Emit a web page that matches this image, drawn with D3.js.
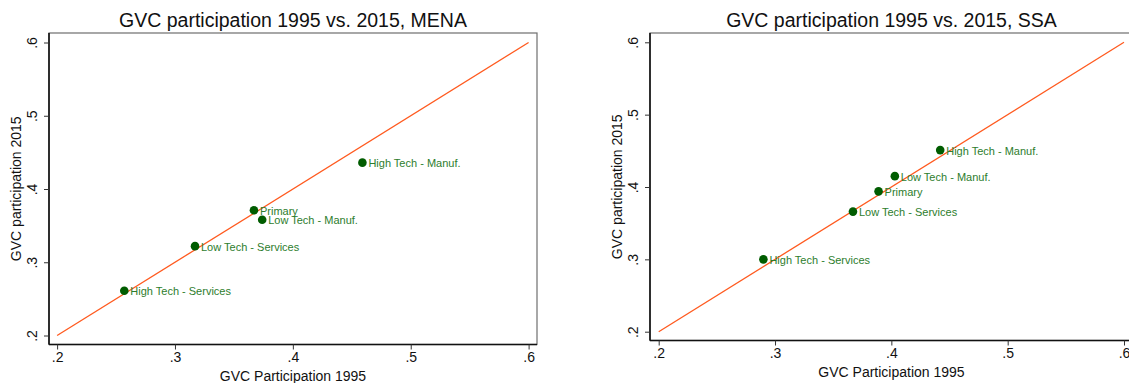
<!DOCTYPE html>
<html>
<head>
<meta charset="utf-8">
<script src="https://cdn.jsdelivr.net/npm/d3@7"></script>
<style>
  body { margin: 0; background: #fff; }
  svg { display: block; font-family: "Liberation Sans", Arial, sans-serif; }
</style>
</head>
<body>
<div id="app"></div>
<script>
const sectors = [
  "High Tech - Services",
  "Low Tech - Services",
  "Primary",
  "Low Tech - Manuf.",
  "High Tech - Manuf.",
];
const menaGvc1995 = [0.257, 0.317, 0.367, 0.374, 0.459];
const menaGvc2015 = [0.261, 0.322, 0.371, 0.358, 0.436];
const ssaGvc1995 = [0.29, 0.367, 0.389, 0.403, 0.442];
const ssaGvc2015 = [0.3, 0.366, 0.394, 0.415, 0.451];
const tickValues = [0.2, 0.3, 0.4, 0.5, 0.6];
const diagonal = [0.2, 0.6];
const titles = [
  "GVC participation 1995 vs. 2015, MENA",
  "GVC participation 1995 vs. 2015, SSA",
];
const xTitle = "GVC Participation 1995";
const yTitle = "GVC participation 2015";

const width = 1129;
const height = 383;

const svg = d3
  .select("#app")
  .append("svg")
  .attr("width", width)
  .attr("height", height);

const fmt = (d) => d3.format(".1f")(d).replace(/^0/, "");

// pixel layout of each Stata panel
const panels = [
  {
    title: titles[0],
    x1995: menaGvc1995,
    y2015: menaGvc2015,
    left: 49, right: 537, top: 33, bottom: 344.5,
    xr: [57.1, 528.6], yr: [335.5, 42.5],
  },
  {
    title: titles[1],
    x1995: ssaGvc1995,
    y2015: ssaGvc2015,
    left: 650, right: 1133, top: 33, bottom: 340.5,
    xr: [658.7, 1124], yr: [331.7, 42.3],
  },
];

panels.forEach((p) => {
  const x = d3.scaleLinear().domain([0.2, 0.6]).range(p.xr);
  const y = d3.scaleLinear().domain([0.2, 0.6]).range(p.yr);
  const g = svg.append("g");
  const cx = (p.left + p.right) / 2;
  const cy = (p.top + p.bottom) / 2;

  // plot region border
  g.append("rect")
    .attr("x", p.left)
    .attr("y", p.top)
    .attr("width", p.right - p.left)
    .attr("height", p.bottom - p.top)
    .attr("fill", "none")
    .attr("stroke", "#6e6e6e")
    .attr("stroke-width", 1.2);

  g.append("text")
    .attr("x", cx)
    .attr("y", 27)
    .attr("text-anchor", "middle")
    .attr("font-size", 19.5)
    .attr("fill", "#111")
    .text(p.title);

  const xAxis = g
    .append("g")
    .attr("transform", `translate(0,${p.bottom})`)
    .call(d3.axisBottom(x).tickValues(tickValues).tickFormat(fmt).tickSize(5).tickSizeOuter(0));
  xAxis.select(".domain").attr("d", `M${p.left},0H${p.right}`).attr("stroke", "#111").attr("stroke-width", 1.6);
  xAxis.selectAll(".tick line").attr("stroke", "#333");
  xAxis.selectAll(".tick text")
    .attr("font-size", 14)
    .attr("font-family", "Liberation Sans, Arial, sans-serif")
    .attr("fill", "#111")
    .attr("y", 8);

  const yAxis = g
    .append("g")
    .attr("transform", `translate(${p.left},0)`)
    .call(d3.axisLeft(y).tickValues(tickValues).tickFormat(fmt).tickSize(5).tickSizeOuter(0));
  yAxis.select(".domain").attr("d", `M0,${p.top}V${p.bottom}`).attr("stroke", "#111").attr("stroke-width", 1.6);
  yAxis.selectAll(".tick line").attr("stroke", "#333");
  yAxis.selectAll(".tick text")
    .attr("font-size", 14)
    .attr("font-family", "Liberation Sans, Arial, sans-serif")
    .attr("fill", "#111")
    .attr("x", null)
    .attr("text-anchor", "middle")
    .attr("transform", "translate(-11,0) rotate(-90)")
    .attr("dy", "-0.1em");

  g.append("text")
    .attr("x", cx)
    .attr("y", p.bottom + 36)
    .attr("text-anchor", "middle")
    .attr("font-size", 14)
    .attr("fill", "#111")
    .text(xTitle);

  g.append("text")
    .attr("transform", `translate(${p.left - 28},${cy}) rotate(-90)`)
    .attr("text-anchor", "middle")
    .attr("font-size", 14)
    .attr("fill", "#111")
    .text(yTitle);

  // 45 degree reference line
  g.append("line")
    .attr("x1", x(diagonal[0]))
    .attr("y1", y(diagonal[0]))
    .attr("x2", x(diagonal[1]))
    .attr("y2", y(diagonal[1]))
    .attr("stroke", "#ff5a1f")
    .attr("stroke-width", 1.3);

  const pts = sectors.map((s, i) => ({ name: s, a: p.x1995[i], b: p.y2015[i] }));

  g.selectAll("circle")
    .data(pts)
    .enter()
    .append("circle")
    .attr("cx", (d) => x(d.a))
    .attr("cy", (d) => y(d.b))
    .attr("r", 4.3)
    .attr("fill", "#005c00");

  g.selectAll("text.lbl")
    .data(pts)
    .enter()
    .append("text")
    .attr("class", "lbl")
    .attr("x", (d) => x(d.a) + 6)
    .attr("y", (d) => y(d.b) + 4.5)
    .attr("font-size", 11)
    .attr("fill", "#2d7d2d")
    .text((d) => d.name);
});
</script>
</body>
</html>
